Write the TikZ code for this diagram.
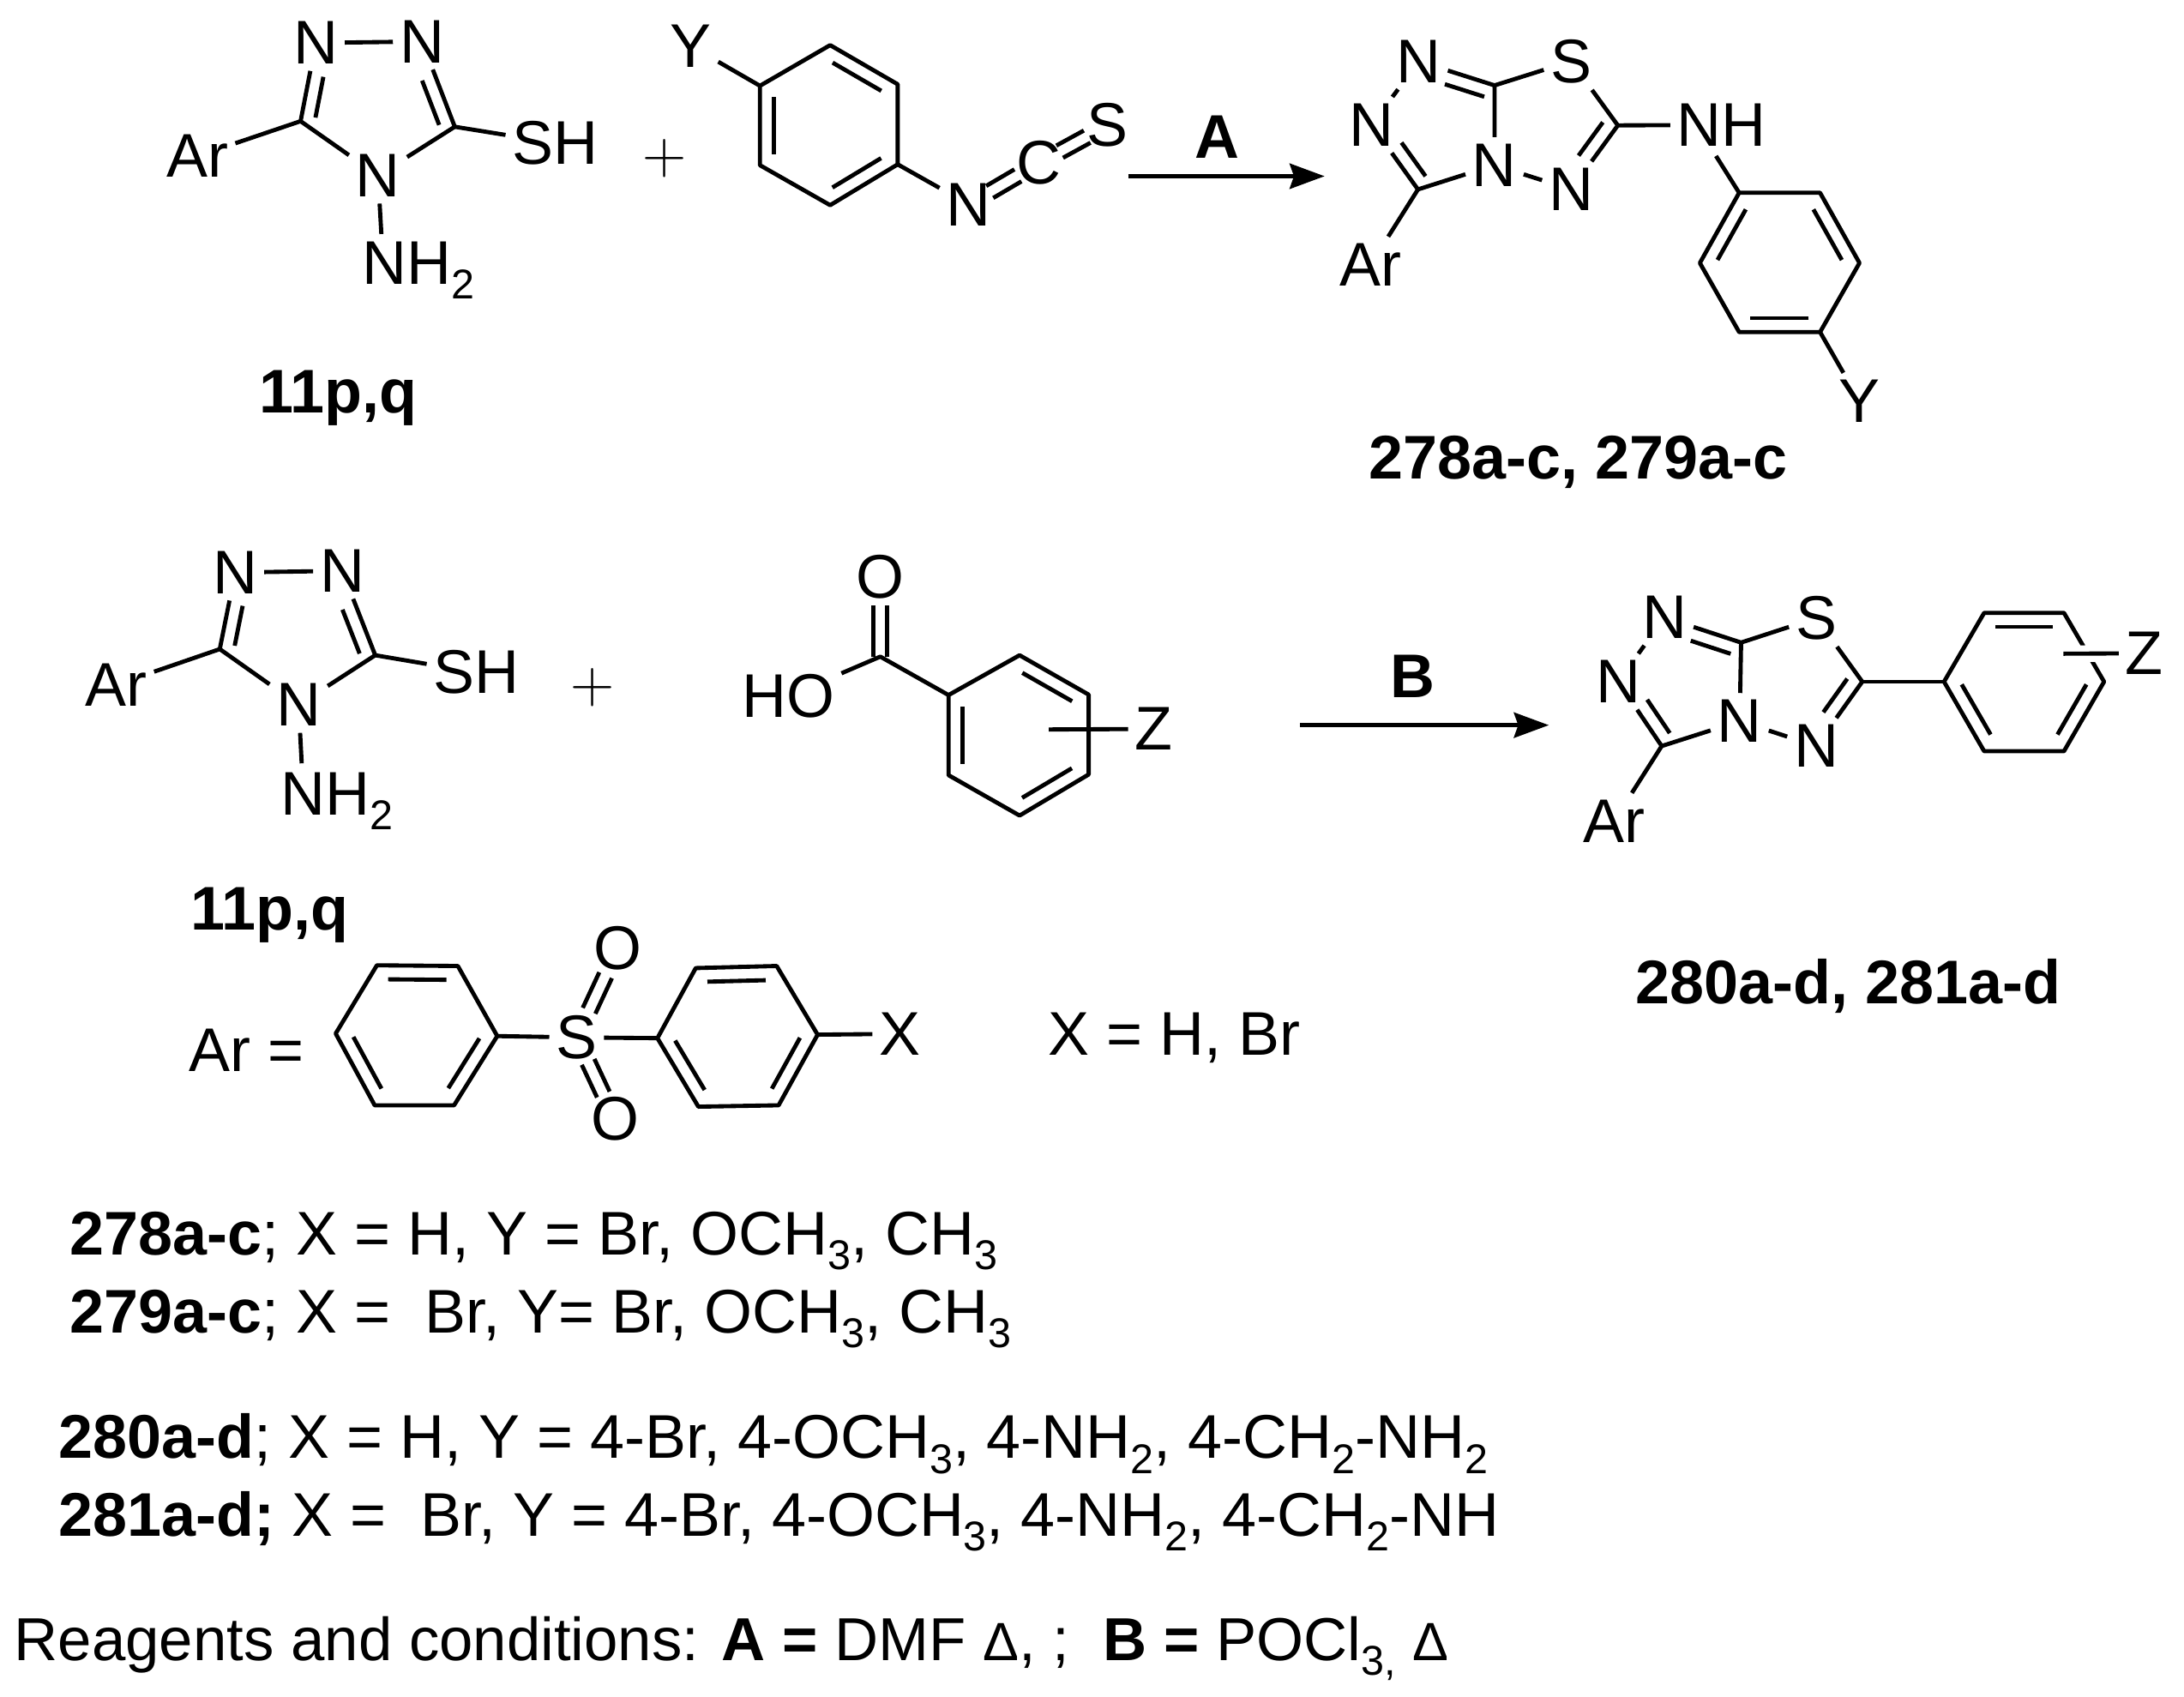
\documentclass[tikz,border=0pt]{standalone}
\usepackage{fontspec}
\setmainfont{Liberation Sans}
\usepackage{tikz}
\usetikzlibrary{arrows.meta , calc}

\tikzset{
    atom/.style = {inner sep = 2.6pt},
    label/.style = {inner sep = 0pt},
    boldlabel/.style = {inner sep = 0pt , font = \fontsize{25.2}{29}\selectfont\bfseries},
    plussign/.style = {inner sep = 0pt , font = \fontsize{30}{32}\selectfont},
    bond/.style = {line width = 1.7pt , line join = round},
    arrowline/.style = {line width = 1.9pt , -{Stealth[length = 0.5cm , width = 0.36cm , inset = 0.06cm]}}
}
\newcommand{\inbond}[4][.14]{\draw[bond] ($(#2)!#1!(#3)!#4!90:(#3)$) -- ($(#3)!#1!(#2)!#4!-90:(#2)$);}
\newcommand{\nbond}[3]{\draw[bond] ($(#1)!.08!(#2)!#3!90:(#2)$) -- ($(#1)!.6!(#2)!#3!90:(#2)$);}
\newcommand{\lsub}[1]{\raisebox{-0.24em}{\fontsize{17}{17}\selectfont #1}}
\newcommand{\delt}{{\fontsize{22}{22}\selectfont Δ}}

\begin{document}
\begin{tikzpicture}[x = 0.02cm , y = -0.02cm , every node/.style = {font = \fontsize{25.2}{29}\selectfont}]
    \path[use as bounding box , fill = white] (0,0) rectangle (1568,1218.3);

    % first triazole
    \node[atom] (n1a) at (226.7,30.8) {N};
    \node[atom] (n2a) at (303,29.8) {N};
    \node[atom] (n4a) at (271.4,126) {N};
    \node[atom] (ara) at (141.9,112) {Ar};
    \node[atom] (sha) at (398.6,102.6) {SH};
    \node[atom , anchor = base west] (nh2a) at (255,204) {NH\lsub{2}};
    \coordinate (c5a) at (215.8,87);
    \coordinate (c3a) at (326.5,91);
    \coordinate (nh2atop) at (273.8,168);
    \draw[bond] (n1a) -- (n2a);
    \draw[bond] (n1a) -- (c5a) -- (n4a) -- (c3a) -- (n2a);
    \nbond{c5a}{n1a}{-0.2cm}
    \nbond{c3a}{n2a}{0.2cm}
    \draw[bond] (c5a) -- (ara);
    \draw[bond] (c3a) -- (sha);
    \draw[bond] (n4a) -- (nh2atop);
    \node[boldlabel] (cmpa) at (243,286) {11p,q};
    \node[plussign] (plusa) at (477,114) {$+$};

    % aryl isothiocyanate
    \coordinate (y1) at (596,32.4);
    \coordinate (y2) at (644.5,60.5);
    \coordinate (y3) at (644.5,118);
    \coordinate (y4) at (596,147.3);
    \coordinate (y5) at (545.6,118.6);
    \coordinate (y6) at (545.6,61.6);
    \node[atom] (yy) at (496,33) {Y};
    \node[atom] (ny) at (695.4,146.7) {N};
    \node[atom] (cy) at (746,117) {C};
    \node[atom] (sy) at (795.3,90) {S};
    \draw[bond] (y1) -- (y2) -- (y3) -- (y4) -- (y5) -- (y6) -- cycle;
    \inbond{y1}{y2}{-0.2cm}
    \inbond{y3}{y4}{-0.2cm}
    \inbond{y5}{y6}{-0.2cm}
    \draw[bond] (y6) -- (yy);
    \draw[bond] (y3) -- (ny);
    \inbond[.3]{ny}{cy}{0.1cm}
    \inbond[.3]{ny}{cy}{-0.1cm}
    \inbond[.3]{cy}{sy}{0.1cm}
    \inbond[.3]{cy}{sy}{-0.1cm}

    % arrow A
    \coordinate (arrAa) at (810,126.5);
    \coordinate (arrAb) at (951,126.5);
    \draw[arrowline] (arrAa) -- (arrAb);
    \node[boldlabel] (lblA) at (873.7,98.4) {A};

    % first product
    \node[atom] (ntp) at (1018.6,44) {N};
    \node[atom] (nlp) at (984.8,89.7) {N};
    \node[atom] (ncp) at (1073,118.5) {N};
    \node[atom] (nrp) at (1128,136) {N};
    \node[atom] (sp) at (1128,44) {S};
    \node[atom] (nhp) at (1236,89.7) {NH};
    \node[atom] (arp) at (984,190) {Ar};
    \coordinate (c7p) at (1073,61.3);
    \coordinate (c3p) at (1018,136);
    \coordinate (c2p) at (1161.5,90);
    \coordinate (nhpb) at (1232,112);
    \draw[bond] (ntp) -- (c7p) -- (ncp) -- (c3p) -- (nlp) -- (ntp);
    \draw[bond] (ncp) -- (nrp) -- (c2p) -- (sp) -- (c7p);
    \nbond{c7p}{ntp}{0.2cm}
    \nbond{c3p}{nlp}{-0.2cm}
    \nbond{c2p}{nrp}{-0.2cm}
    \draw[bond] (c3p) -- (arp);
    \draw[bond] (c2p) -- (nhp);
    \coordinate (p1) at (1248.6,138.4);
    \coordinate (p2) at (1306.7,138.4);
    \coordinate (p3) at (1335,188.8);
    \coordinate (p4) at (1306.7,238.4);
    \coordinate (p5) at (1248.6,238.4);
    \coordinate (p6) at (1220.4,188.8);
    \node[atom] (yp) at (1335,287.8) {Y};
    \draw[bond] (p1) -- (p2) -- (p3) -- (p4) -- (p5) -- (p6) -- cycle;
    \inbond{p2}{p3}{-0.2cm}
    \inbond{p4}{p5}{-0.2cm}
    \inbond{p6}{p1}{-0.2cm}
    \draw[bond] (nhpb) -- (p1);
    \draw[bond] (p4) -- (yp);
    \node[boldlabel] (cmpp) at (1133,332) {278a-c, 279a-c};

    % second triazole
    \node[atom] (n1b) at (168.8,411) {N};
    \node[atom] (n2b) at (245.7,409.8) {N};
    \node[atom] (n4b) at (214.4,506) {N};
    \node[atom] (arb) at (83.6,491.5) {Ar};
    \node[atom] (shb) at (342,482.7) {SH};
    \node[atom , anchor = base west] (nh2b) at (197,585) {NH\lsub{2}};
    \coordinate (c5b) at (157.8,466);
    \coordinate (c3b) at (269.4,470.4);
    \coordinate (nh2btop) at (216.6,548);
    \draw[bond] (n1b) -- (n2b);
    \draw[bond] (n1b) -- (c5b) -- (n4b) -- (c3b) -- (n2b);
    \nbond{c5b}{n1b}{-0.2cm}
    \nbond{c3b}{n2b}{0.2cm}
    \draw[bond] (c5b) -- (arb);
    \draw[bond] (c3b) -- (shb);
    \draw[bond] (n4b) -- (nh2btop);
    \node[boldlabel] (cmpb) at (193.5,657) {11p,q};
    \node[plussign] (plusb) at (425.5,493.5) {$+$};

    % benzoic acid
    \coordinate (h1) at (681,499);
    \coordinate (h2) at (732,470.4);
    \coordinate (h3) at (781.6,498.7);
    \coordinate (h4) at (781.6,556);
    \coordinate (h5) at (732,585.5);
    \coordinate (h6) at (681,556.5);
    \coordinate (ch) at (632,471.4);
    \coordinate (zhb) at (753,523.7);
    \node[atom] (oh) at (632,414) {O};
    \node[atom] (hoh) at (566,499.7) {HO};
    \node[atom] (zh) at (828.3,523.3) {Z};
    \draw[bond] (h1) -- (h2) -- (h3) -- (h4) -- (h5) -- (h6) -- cycle;
    \inbond{h2}{h3}{-0.2cm}
    \inbond{h4}{h5}{-0.2cm}
    \inbond{h6}{h1}{-0.2cm}
    \draw[bond] (h1) -- (ch) -- (hoh);
    \draw[bond] ([xshift = -0.1cm]ch) -- ([xshift = -0.1cm]oh.south);
    \draw[bond] ([xshift = 0.1cm]ch) -- ([xshift = 0.1cm]oh.south);
    \draw[bond] (zhb) -- (zh);

    % arrow B
    \coordinate (arrBa) at (933.5,520.6);
    \coordinate (arrBb) at (1112,520.6);
    \draw[arrowline] (arrBa) -- (arrBb);
    \node[boldlabel] (lblB) at (1014.5,485.3) {B};

    % second product
    \node[atom] (ntq) at (1195,443.3) {N};
    \node[atom] (nlq) at (1161.8,489.4) {N};
    \node[atom] (ncq) at (1249,517.7) {N};
    \node[atom] (nrq) at (1304,535.6) {N};
    \node[atom] (sq) at (1304,443.7) {S};
    \node[atom] (arq) at (1158.8,589.4) {Ar};
    \coordinate (c7q) at (1250,461.3);
    \coordinate (c3q) at (1193,535.6);
    \coordinate (c2q) at (1337,489.4);
    \draw[bond] (ntq) -- (c7q) -- (ncq) -- (c3q) -- (nlq) -- (ntq);
    \draw[bond] (ncq) -- (nrq) -- (c2q) -- (sq) -- (c7q);
    \nbond{c7q}{ntq}{0.2cm}
    \nbond{c3q}{nlq}{-0.2cm}
    \nbond{c2q}{nrq}{-0.2cm}
    \draw[bond] (c3q) -- (arq);
    \coordinate (q1) at (1395.7,489.4);
    \coordinate (q2) at (1424.5,440);
    \coordinate (q3) at (1481.8,440);
    \coordinate (q4) at (1510.6,489.4);
    \coordinate (q5) at (1481.8,539.3);
    \coordinate (q6) at (1424.5,539.3);
    \coordinate (zqb) at (1481.4,469.3);
    \node[atom] (zq) at (1539.5,469) {Z};
    \draw[bond] (c2q) -- (q1);
    \draw[bond] (q1) -- (q2) -- (q3) -- (q4) -- (q5) -- (q6) -- cycle;
    \inbond{q2}{q3}{-0.2cm}
    \inbond{q4}{q5}{-0.2cm}
    \inbond{q6}{q1}{-0.2cm}
    \draw[white , line width = 6.8pt] (zqb) -- (zq); % gap in ring
    \draw[bond] (zqb) -- (zq);
    \node[boldlabel] (cmpq) at (1327,708) {280a-d, 281a-d};

    % sulfone
    \node[atom] (ars) at (177,754) {Ar =};
    \coordinate (s1) at (241,742);
    \coordinate (s2) at (270.6,693);
    \coordinate (s3) at (328.7,693.5);
    \coordinate (s4) at (357,743.8);
    \coordinate (s5) at (326,793.5);
    \coordinate (s6) at (269,793.5);
    \coordinate (t1) at (472,745.3);
    \coordinate (t2) at (499.5,695);
    \coordinate (t3) at (557.6,693.5);
    \coordinate (t4) at (587,742.8);
    \coordinate (t5) at (559,793.5);
    \coordinate (t6) at (501.4,794.5);
    \node[atom] (ss) at (414,744.8) {S};
    \node[atom] (ot) at (443.7,681) {O};
    \node[atom] (ob) at (441.4,803.3) {O};
    \node[atom] (xs) at (646,742.2) {X};
    \draw[bond] (s1) -- (s2) -- (s3) -- (s4) -- (s5) -- (s6) -- cycle;
    \inbond{s2}{s3}{-0.2cm}
    \inbond{s4}{s5}{-0.2cm}
    \inbond{s6}{s1}{-0.2cm}
    \draw[bond] (t1) -- (t2) -- (t3) -- (t4) -- (t5) -- (t6) -- cycle;
    \inbond{t2}{t3}{-0.2cm}
    \inbond{t4}{t5}{-0.2cm}
    \inbond{t6}{t1}{-0.2cm}
    \draw[bond] (s4) -- (ss);
    \draw[bond] (ss) -- (t1);
    \draw[bond] (t4) -- (xs);
    \inbond[.3]{ss}{ot}{0.1cm}
    \inbond[.3]{ss}{ot}{-0.1cm}
    \inbond[.3]{ss}{ob}{0.1cm}
    \inbond[.3]{ss}{ob}{-0.1cm}
    \node[label] (xval) at (843,745) {X = H, Br};

    % text lines
    \node[label , anchor = base west] (linea) at (50,901) {\textbf{278a-c}; X = H, Y = Br, OCH\lsub{3}, CH\lsub{3}};
    \node[label , anchor = base west] (lineb) at (50,957) {\textbf{279a-c}; X =\ \ Br, Y= Br, OCH\lsub{3}, CH\lsub{3}};
    \node[label , anchor = base west] (linec) at (42,1047) {\textbf{280a-d}; X = H, Y = 4-Br, 4-OCH\lsub{3}, 4-NH\lsub{2}, 4-CH\lsub{2}-NH\lsub{2}};
    \node[label , anchor = base west] (lined) at (42,1103) {\textbf{281a-d;} X =\ \ Br, Y = 4-Br, 4-OCH\lsub{3}, 4-NH\lsub{2}, 4-CH\lsub{2}-NH};
    \node[label , anchor = base west , font = \fontsize{24.8}{29}\selectfont] (linee) at (10,1192) {Reagents and conditions: \textbf{A =} DMF \delt, ;\ \ \textbf{B =} POCl\lsub{3,} \delt};
\end{tikzpicture}
\end{document}
